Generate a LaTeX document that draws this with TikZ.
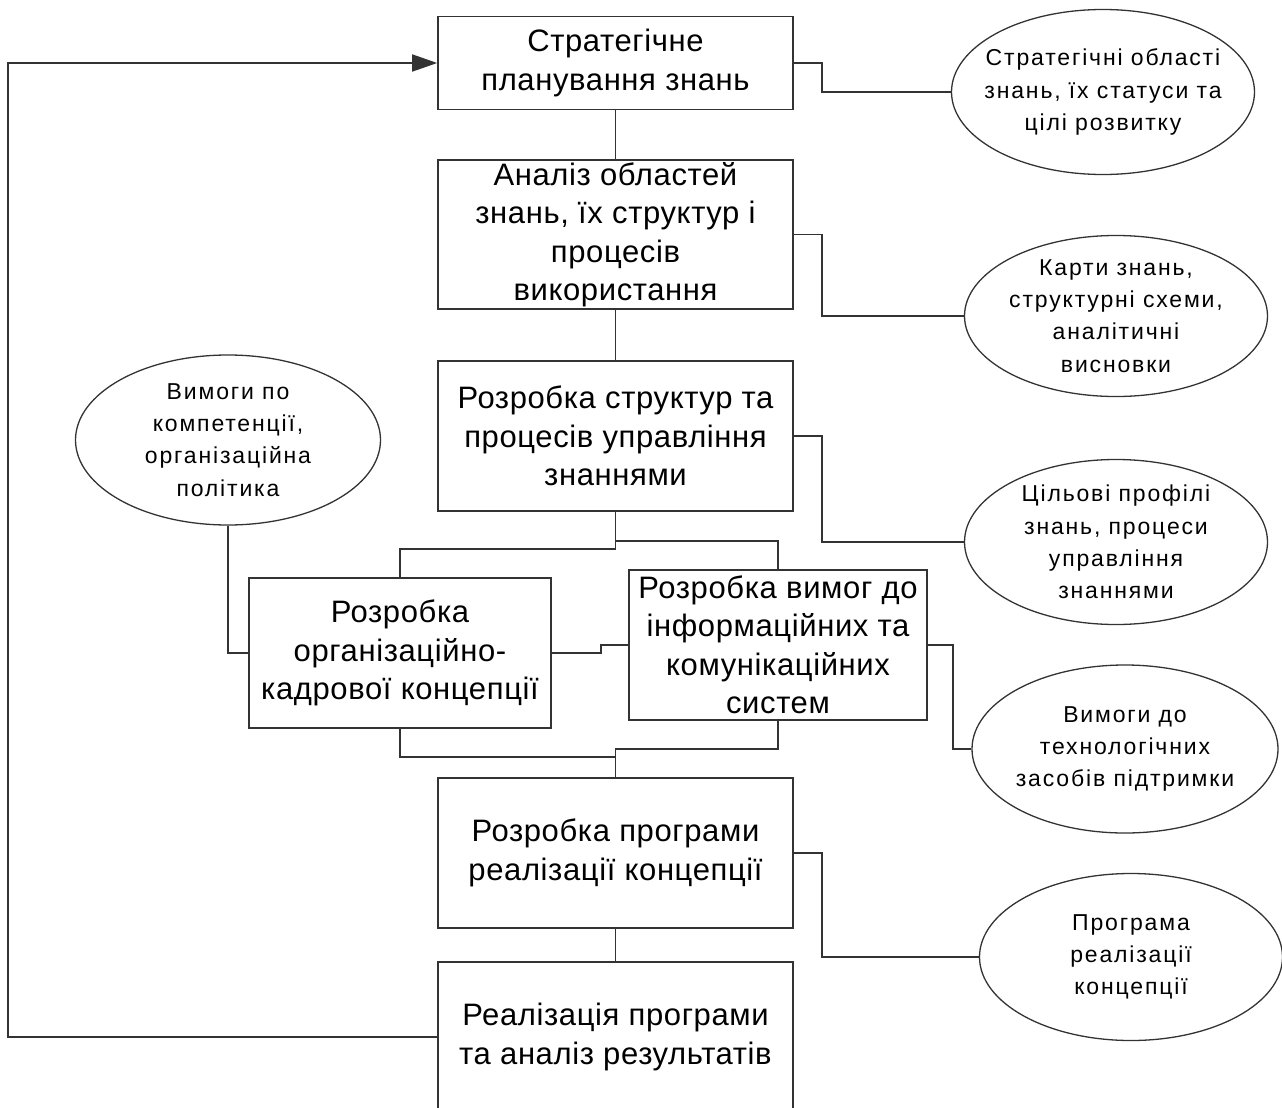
\documentclass[tikz,border=0pt]{standalone}
\usepackage{fontspec}
\setmainfont{Liberation Sans}
\newfontfamily\stagefont[LetterSpace=2]{Liberation Sans}
\newfontfamily\ovalfont[LetterSpace=8]{Liberation Sans}
\usetikzlibrary{shapes.geometric,arrows.meta}

\tikzset{
  conn/.style={draw=black!80, line width=1.6pt},
  stage/.style={draw=black!80, line width=1.6pt, rectangle, inner sep=0pt,
    minimum width=355pt, minimum height=150pt, align=center,
    font=\stagefont\fontsize{31}{38.5}\selectfont},
  oval/.style={draw=black!80, line width=1.3pt, ellipse, inner sep=0pt,
    minimum width=303pt, minimum height=165pt},
  ovaltext/.style={align=center, inner sep=0pt,
    font=\ovalfont\fontsize{23}{32.3}\selectfont},
}

\begin{document}
\begin{tikzpicture}[x=1pt,y=-1pt]
\useasboundingbox (0,0) rectangle (1282,1108);

% main chain of stages
\node[stage, minimum height=93pt]  (b1) at (615.5,63)   {Стратегічне\\планування знань};
\node[stage, minimum height=149pt] (b2) at (615.5,234.5) {Аналіз областей\\знань, їх структур і\\процесів\\використання};
\node[stage] (b3) at (615.5,436) {Розробка структур та\\процесів управління\\знаннями};
\node[stage, minimum width=302pt] (b4) at (400,653) {Розробка\\організаційно-\\кадрової концепції};
\node[stage, minimum width=298pt] (b5) at (778,645) {Розробка вимог до\\інформаційних та\\комунікаційних\\систем};
\node[stage] (b6) at (615.5,853) {Розробка програми\\реалізації концепції};
\node[stage] (b7) at (615.5,1037) {Реалізація програми\\та аналіз результатів};

% results and inputs
\node[oval] (e0) at (228,440) [minimum width=305pt, minimum height=170pt] {};
\node[ovaltext] (e0t) at (e0) {Вимоги по\\компетенції,\\організаційна\\політика};
\node[oval] (e1) at (1103,92) {};
\node[ovaltext] (e1t) at (e1) {Стратегічні області\\знань, їх статуси та\\цілі розвитку};
\node[oval, minimum height=161pt] (e2) at (1116,316) {};
\node[ovaltext] (e2t) at (e2) {Карти знань,\\структурні схеми,\\аналітичні\\висновки};
\node[oval] (e3) at (1116,542) {};
\node[ovaltext] (e3t) at (e3) {Цільові профілі\\знань, процеси\\управління\\знаннями};
\node[oval, minimum width=306pt, minimum height=168pt] (e4) at (1125,749) {};
\node[ovaltext] (e4t) at (e4) {Вимоги до\\технологічних\\засобів підтримки};
\node[oval, minimum height=167pt] (e5) at (1131,957) {};
\node[ovaltext] (e5t) at (e5) {Програма\\реалізації\\концепції};

% vertical chain
\draw[conn] (b1.south) -- (b2.north);
\draw[conn] (b2.south) -- (b3.north);
\draw[conn] (b3.south) -- ++(0,37) -| (b4.north);
\draw[conn] (b3.south) -- ++(0,29) -| (b5.north);
\draw[conn] (b4.east) -- ++(49,0) |- (b5.west);
\draw[conn] (b4.south) -- ++(0,28) -| (b6.north);
\draw[conn] (b5.south) -- ++(0,28) -| (b6.north);
\draw[conn] (b6.south) -- (b7.north);

% feedback loop
\draw[conn, -{Triangle[length=25pt,width=17pt]}] (b7.west) -- ++(-429,0) |- (b1.west);

% side links
\draw[conn] (b1.east) -- ++(28,0) |- (e1.west);
\draw[conn] (b2.east) -- ++(28,0) |- (e2.west);
\draw[conn] (b3.east) -- ++(28,0) |- (e3.west);
\draw[conn] (b5.east) -- ++(25,0) |- (e4.west);
\draw[conn] (b6.east) -- ++(28,0) |- (e5.west);
\draw[conn] (e0.south) |- (b4.west);
\end{tikzpicture}
\end{document}
